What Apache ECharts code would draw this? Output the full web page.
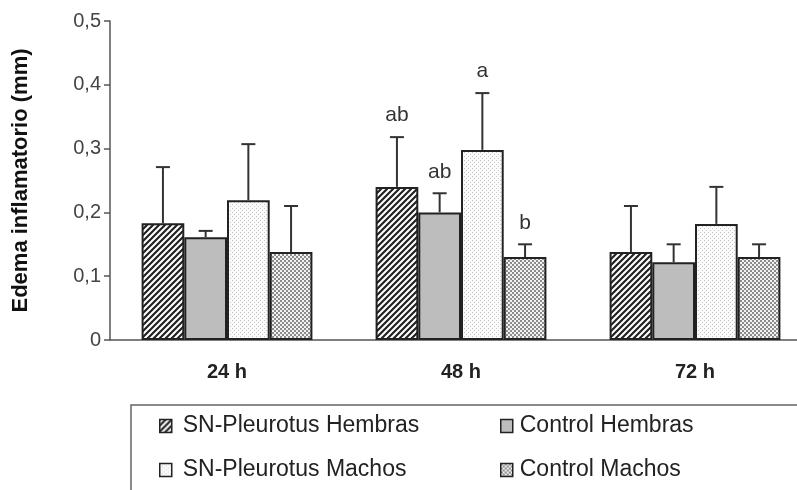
<!DOCTYPE html>
<html>
<head>
<meta charset="utf-8">
<script src="https://cdn.jsdelivr.net/npm/echarts@6/dist/echarts.min.js"></script>
<style>
  html, body { margin: 0; padding: 0; background: #fff; overflow: hidden; }
  #chart { width: 812px; height: 490px; }
</style>
</head>
<body>
<div id="chart"></div>
<script>
// categorías
const categories = ['24 h', '48 h', '72 h']

// medias (mm)
const snHembras = [0.183, 0.240, 0.138]
const controlHembras = [0.161, 0.200, 0.122]
const snMachos = [0.219, 0.298, 0.182]
const controlMachos = [0.138, 0.130, 0.130]

// extremo superior de la barra de error
const snHembrasErr = [0.271, 0.318, 0.210]
const controlHembrasErr = [0.171, 0.230, 0.150]
const snMachosErr = [0.307, 0.387, 0.240]
const controlMachosErr = [0.210, 0.150, 0.150]

// letras de significancia (solo 48 h)
const snHembrasLetters = ['', 'ab', '']
const controlHembrasLetters = ['', 'ab', '']
const snMachosLetters = ['', 'a', '']
const controlMachosLetters = ['', 'b', '']

const yTicks = [0, 0.1, 0.2, 0.3, 0.4, 0.5]

const FONT = '"Liberation Sans", Arial, sans-serif'
const CAT_GAP = 0.27

// patrones de relleno
const makePattern = (size, draw) => {
    const c = document.createElement('canvas')
    c.width = size
    c.height = size
    const ctx = c.getContext('2d')
    draw(ctx, size)
    return { image: c, repeat: 'repeat' }
}

const hatchFill = makePattern(6, (ctx, s) => {
    ctx.fillStyle = '#fff'
    ctx.fillRect(0, 0, s, s)
    ctx.strokeStyle = '#222'
    ctx.lineWidth = 2.2
    ctx.beginPath()
    ctx.moveTo(-s, 2 * s); ctx.lineTo(2 * s, -s)
    ctx.moveTo(-2 * s, 2 * s); ctx.lineTo(s, -s)
    ctx.moveTo(0, 2 * s); ctx.lineTo(3 * s, -s)
    ctx.stroke()
})

const dotFill = makePattern(4, (ctx, s) => {
    ctx.fillStyle = '#fbfbfb'
    ctx.fillRect(0, 0, s, s)
    ctx.fillStyle = '#c4c4c4'
    ctx.fillRect(0, 0, 1, 1)
    ctx.fillRect(2, 2, 1, 1)
})

const checkFill = makePattern(4, (ctx, s) => {
    ctx.fillStyle = '#f2f2f2'
    ctx.fillRect(0, 0, s, s)
    ctx.fillStyle = '#8c8c8c'
    ctx.fillRect(0, 0, 2, 2)
    ctx.fillRect(2, 2, 2, 2)
})

const seriesDefs = [
    { name: 'SN-Pleurotus Hembras', data: snHembras, err: snHembrasErr, letters: snHembrasLetters, fill: hatchFill },
    { name: 'Control Hembras', data: controlHembras, err: controlHembrasErr, letters: controlHembrasLetters, fill: '#bdbdbd' },
    { name: 'SN-Pleurotus Machos', data: snMachos, err: snMachosErr, letters: snMachosLetters, fill: dotFill },
    { name: 'Control Machos', data: controlMachos, err: controlMachosErr, letters: controlMachosLetters, fill: checkFill },
]

// datos de las barras de error: [categoría, serie, media, extremo, letra]
const errData = []
seriesDefs.forEach((s, si) => {
    categories.forEach((c, ci) => {
        errData.push([ci, si, s.data[ci], s.err[ci], s.letters[ci]])
    })
})

const renderError = (params, api) => {
    const ci = api.value(0)
    const si = api.value(1)
    const band = api.size([1, 0])[0]
    const barW = band * (1 - CAT_GAP) / 4
    const base = api.coord([ci, api.value(2)])
    const top = api.coord([ci, api.value(3)])
    const x = base[0] + (si - 1.5) * barW
    const letter = errData[params.dataIndex][4]
    const children = [
        { type: 'line', shape: { x1: x, y1: base[1], x2: x, y2: top[1] }, style: { stroke: '#333', lineWidth: 2 } },
        { type: 'line', shape: { x1: x - 7, y1: top[1], x2: x + 7, y2: top[1] }, style: { stroke: '#333', lineWidth: 2 } },
    ]
    if (letter) {
        children.push({
            type: 'text',
            style: {
                text: letter, x: x, y: top[1] - 11,
                align: 'center', verticalAlign: 'bottom',
                font: '21px ' + FONT, fill: '#333',
            },
        })
    }
    return { type: 'group', children }
}

const chart = echarts.init(document.getElementById('chart'), null, { renderer: 'canvas' })

const legendText = { fontFamily: FONT, fontSize: 23, color: '#222', lineHeight: 24, padding: [0, 0, 0, 6] }

chart.setOption({
    animation: false,
    backgroundColor: '#fff',
    grid: { left: 110, top: 21, right: 0, height: 319, containLabel: false },
    legend: [
        {
            data: ['SN-Pleurotus Hembras', 'SN-Pleurotus Machos'],
            orient: 'vertical', left: 159, top: 414, padding: 0,
            itemWidth: 12, itemHeight: 13, itemGap: 20,
            icon: 'rect', textStyle: legendText,
            itemStyle: { borderColor: '#222', borderWidth: 1.5 },
        },
        {
            data: ['Control Hembras', 'Control Machos'],
            orient: 'vertical', left: 500, top: 414, padding: 0,
            itemWidth: 12, itemHeight: 13, itemGap: 20,
            icon: 'rect', textStyle: { ...legendText, padding: [0, 0, 0, 2] },
            itemStyle: { borderColor: '#222', borderWidth: 1.5 },
        },
    ],
    graphic: [
        {
            type: 'rect', silent: true,
            shape: { x: 131, y: 405, width: 720, height: 120 },
            style: { fill: 'none', stroke: '#666', lineWidth: 1.5 },
        },
    ],
    xAxis: {
        type: 'category',
        data: categories,
        axisTick: { show: false },
        axisLine: { lineStyle: { color: '#555', width: 1.5 } },
        axisLabel: { margin: 22, fontFamily: FONT, fontSize: 20, fontWeight: 'bold', color: '#222' },
    },
    yAxis: {
        type: 'value',
        min: yTicks[0],
        max: yTicks[yTicks.length - 1],
        interval: 0.1,
        splitLine: { show: false },
        axisLine: { show: true, lineStyle: { color: '#555', width: 1.5 } },
        axisTick: { show: true, length: 6, lineStyle: { color: '#555', width: 1.5 } },
        axisLabel: {
            margin: 9, fontFamily: FONT, fontSize: 20, color: '#444',
            formatter: (v) => String(Math.round(v * 10) / 10).replace('.', ','),
        },
        name: 'Edema inflamatorio (mm)',
        nameLocation: 'middle',
        nameGap: 78,
        nameTextStyle: { fontFamily: FONT, fontSize: 22, fontWeight: 'bold', color: '#111' },
    },
    series: [
        ...seriesDefs.map((s) => ({
            name: s.name,
            type: 'bar',
            data: s.data,
            barGap: '0%',
            barCategoryGap: (CAT_GAP * 100) + '%',
            itemStyle: { color: s.fill, borderColor: '#222', borderWidth: 2 },
        })),
        {
            type: 'custom',
            renderItem: renderError,
            data: errData,
            encode: { x: 0, y: 3 },
            z: 5,
        },
    ],
})
</script>
</body>
</html>
